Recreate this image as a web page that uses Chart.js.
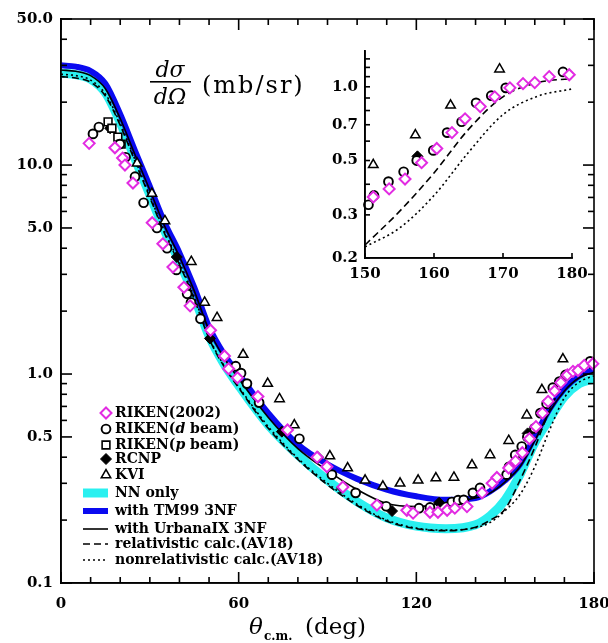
<!DOCTYPE html>
<html>
<head>
<meta charset="utf-8">
<script src="https://cdn.jsdelivr.net/npm/chart.js@4.4.0/dist/chart.umd.min.js"></script>
<style>
html, body { margin: 0; padding: 0; background: #fff; }
#wrap { position: relative; width: 608px; height: 643px; }
#mainChart { position: absolute; left: 0; top: 0; }
#insetChart { position: absolute; left: 300px; top: 30px; }
</style>
</head>
<body>
<div id="wrap">
    <canvas id="mainChart" width="608" height="643"></canvas>
    <canvas id="insetChart" width="300" height="270"></canvas>
</div>
<script>
// measured points (deg, mb/sr)
const riken02Deg = [9.5, 18.2, 20.8, 21.6, 24.3, 30.8, 34.4, 37.8, 41.5, 43.6, 50.5, 55.2, 56.6, 59.6, 66.5,
    76.5, 86.5, 89.8, 95.2, 106.7, 116.8, 118.9, 124.6, 127.3, 130.4, 133, 137.1, 142.2, 145.6, 147.2,
    151.2, 153.5, 155.8, 158.2, 160.4, 162.6, 164.5, 166.7, 168.8, 171, 172.9, 174.6, 176.7, 179.6]
const riken02Val = [12.7, 12.1, 10.8, 10.0, 8.2, 5.3, 4.2, 3.25, 2.6, 2.12, 1.62, 1.22, 1.06, 0.96, 0.78,
    0.54, 0.40, 0.36, 0.288, 0.236, 0.223, 0.216, 0.218, 0.218, 0.223, 0.228, 0.232, 0.27, 0.30, 0.32,
    0.355, 0.383, 0.42, 0.49, 0.56, 0.65, 0.74, 0.83, 0.91, 0.99, 1.03, 1.04, 1.10, 1.12]

const dBeamDeg = [10.8, 12.8, 19.9, 21.8, 25, 27.9, 32.4, 35.8, 39, 42.2, 42.6, 43.9, 47.1, 59, 60.8,
    62.8, 66.9, 80.5, 91.5, 99.5, 109.8, 120.9, 124.6, 132, 134.1, 136, 139.1, 141.5, 150.5, 151.3,
    153.4, 155.6, 157.5, 159.9, 161.9, 164, 166.1, 168.3, 170.4, 178.7]
const dBeamVal = [14.1, 15.2, 12.6, 10.9, 8.8, 6.6, 5.0, 4.0, 3.15, 2.58, 2.42, 2.2, 1.84, 1.09, 1.01,
    0.9, 0.73, 0.49, 0.33, 0.27, 0.233, 0.228, 0.23, 0.244, 0.249, 0.25, 0.27, 0.285, 0.33, 0.36,
    0.41, 0.45, 0.50, 0.55, 0.65, 0.72, 0.86, 0.92, 0.99, 1.15]

const pBeamDeg = [15.9, 17.2, 19.2, 20.3]
const pBeamVal = [16.1, 15.0, 13.6, 12.6]

const rcnpDeg = [16.6, 39.1, 50.3, 74.6, 86.8, 94.9, 111.8, 127.7, 157.6]
const rcnpVal = [15.0, 3.63, 1.48, 0.53, 0.40, 0.285, 0.221, 0.242, 0.52]

const kviDeg = [25.7, 30.7, 35.1, 44, 48.5, 52.7, 61.5, 69.8, 73.8, 78.8, 90.8, 96.8, 102.7, 108.7,
    114.5, 120.6, 126.6, 132.7, 138.8, 144.9, 151.2, 157.3, 162.4, 169.5]
const kviVal = [10.2, 7.3, 5.4, 3.45, 2.2, 1.86, 1.24, 0.90, 0.76, 0.57, 0.405, 0.355, 0.31, 0.29,
    0.30, 0.31, 0.318, 0.32, 0.367, 0.41, 0.48, 0.635, 0.84, 1.18]

// calculations
const curveDeg = [0, 5, 10, 15, 20, 25, 30, 35, 40, 45, 50, 55, 60, 70, 80, 90, 100, 110, 120, 130,
    140, 145, 150, 155, 160, 165, 170, 175, 180]
const nnOnly = [27.5, 27.1, 25.8, 22.2, 16.0, 10.7, 7.2, 4.85, 3.45, 2.35, 1.52, 1.12, 0.88, 0.57, 0.41,
    0.31, 0.245, 0.205, 0.187, 0.182, 0.19, 0.21, 0.25, 0.33, 0.47, 0.61, 0.78, 0.9, 0.95]
const tm99 = [30, 29.6, 28.2, 24.5, 17.5, 11.7, 7.9, 5.3, 3.8, 2.6, 1.68, 1.25, 1.0, 0.65, 0.46,
    0.37, 0.315, 0.28, 0.26, 0.25, 0.255, 0.275, 0.31, 0.37, 0.5, 0.68, 0.85, 0.98, 1.05]
const urbana = [28.5, 28.1, 26.8, 23.2, 16.7, 11.2, 7.6, 5.1, 3.65, 2.5, 1.62, 1.2, 0.95, 0.62, 0.44,
    0.345, 0.28, 0.24, 0.232, 0.243, 0.255, 0.27, 0.305, 0.36, 0.48, 0.66, 0.83, 0.96, 1.02]
const relCalc = [26.5, 26.1, 24.9, 21.4, 15.5, 10.4, 7.0, 4.7, 3.35, 2.28, 1.48, 1.09, 0.86, 0.55, 0.39,
    0.295, 0.235, 0.198, 0.182, 0.178, 0.185, 0.2, 0.226, 0.31, 0.445, 0.67, 0.91, 1.04, 1.08]
const nonrelCalc = [27.2, 26.8, 25.5, 21.9, 15.8, 10.6, 7.1, 4.8, 3.42, 2.33, 1.5, 1.1, 0.87, 0.56, 0.395,
    0.3, 0.238, 0.2, 0.183, 0.179, 0.184, 0.195, 0.222, 0.265, 0.36, 0.54, 0.77, 0.915, 0.98]

// axis ticks
const mainXTicks = [0, 60, 120, 180]
const mainXMinor = [10, 20, 30, 40, 50, 70, 80, 90, 100, 110, 130, 140, 150, 160, 170]
const mainYTicks = [0.1, 0.5, 1, 5, 10, 50]
const mainYMinor = [0.2, 0.3, 0.4, 0.6, 0.7, 0.8, 0.9, 2, 3, 4, 6, 7, 8, 9, 20, 30, 40]
const insetXTicks = [150, 160, 170, 180]
const insetYTicks = [0.2, 0.3, 0.5, 0.7, 1.0]
const insetYMinor = [0.4, 0.6, 0.8, 0.9, 1.1, 1.2, 1.3]

const MAGENTA = '#e22be2'
const CYAN = '#2af0f0'
const BLUE = '#0a0af0'
const FONT = '"DejaVu Serif", serif'

function pts(xs, ys, minX) {
    return xs.map((x, i) => ({x: x, y: ys[i]})).filter(p => minX === undefined || p.x >= minX)
}

function drawMarker(ctx, style, x, y, r, stroke, fill, lw) {
    ctx.save()
    ctx.lineWidth = lw
    ctx.strokeStyle = stroke
    ctx.fillStyle = fill
    ctx.beginPath()
    if (style === 'circle') {
        ctx.arc(x, y, r, 0, Math.PI * 2)
    } else if (style === 'rectRot') {
        ctx.moveTo(x, y - r); ctx.lineTo(x + r, y); ctx.lineTo(x, y + r); ctx.lineTo(x - r, y)
        ctx.closePath()
    } else if (style === 'rect') {
        const s = r * Math.SQRT1_2
        ctx.rect(x - s, y - s, 2 * s, 2 * s)
    } else if (style === 'triangle') {
        const e = r * 3 / Math.sqrt(3)
        const h = e * Math.sqrt(3) / 2
        ctx.moveTo(x - e / 2, y + h / 3); ctx.lineTo(x + e / 2, y + h / 3); ctx.lineTo(x, y - 2 * h / 3)
        ctx.closePath()
    }
    ctx.fill()
    ctx.stroke()
    ctx.restore()
}

// frame + inward tick marks, positions taken from the scales themselves
function drawTickFrame(chart, box, xTicks, yTicks) {
    const ctx = chart.ctx
    const sx = chart.scales.x, sy = chart.scales.y
    const L = sx.getPixelForValue(sx.min), R = sx.getPixelForValue(sx.max)
    const B = sy.getPixelForValue(sy.min), T = sy.getPixelForValue(sy.max)
    const w = 1.6
    ctx.save()
    ctx.setLineDash([])
    ctx.globalAlpha = 1
    ctx.fillStyle = '#000'
    ctx.fillRect(L - w / 2, T - w / 2, w, B - T + w)
    ctx.fillRect(L - w / 2, B - w / 2, R - L + w, w)
    if (box) {
        ctx.fillRect(L - w / 2, T - w / 2, R - L + w, w)
        ctx.fillRect(R - w / 2, T - w / 2, w, B - T + w)
    }
    for (let i = 0; i < xTicks.length; i++) {
        const px = sx.getPixelForValue(xTicks[i][0])
        const len = xTicks[i][1]
        ctx.fillRect(px - w / 2, B - len, w, len)
        if (box) ctx.fillRect(px - w / 2, T, w, len)
    }
    for (let i = 0; i < yTicks.length; i++) {
        const py = sy.getPixelForValue(yTicks[i][0])
        const len = yTicks[i][1]
        ctx.fillRect(L, py - w / 2, len, w)
        if (box) ctx.fillRect(R - len, py - w / 2, len, w)
    }
    ctx.restore()
}

const mainTicksX = mainXTicks.map(v => [v, 11]).concat(mainXMinor.map(v => [v, 6]))
const mainTicksY = mainYTicks.map(v => [v, 11]).concat(mainYMinor.map(v => [v, 6]))
const insetTicksX = insetXTicks.map(v => [v, 5])
const insetTicksY = insetYTicks.concat(insetYMinor).map(v => [v, 5])

// legend and labels on the main chart
const legendItems = [
    {ds: 0, kind: 'marker', text: [['RIKEN(2002)', '']]},
    {ds: 1, kind: 'marker', text: [['RIKEN(', ''], ['d', 'italic '], [' beam)', '']]},
    {ds: 2, kind: 'marker', text: [['RIKEN(', ''], ['p', 'italic '], [' beam)', '']]},
    {ds: 3, kind: 'marker', text: [['RCNP', '']]},
    {ds: 4, kind: 'marker', text: [['KVI', '']]},
    {ds: 9, kind: 'line', text: [['NN only', '']]},
    {ds: 8, kind: 'line', text: [['with TM99 3NF', '']]},
    {ds: 7, kind: 'line', text: [['with UrbanaIX 3NF', '']]},
    {ds: 6, kind: 'line', text: [['relativistic calc.(AV18)', '']]},
    {ds: 5, kind: 'line', text: [['nonrelativistic calc.(AV18)', '']]}
]
const legendRowsY = [413, 429, 445, 459, 475, 493, 511, 529, 544, 560]

function drawAnnotations(chart) {
    const ctx = chart.ctx
    ctx.save()
    ctx.fillStyle = '#000'
    legendItems.forEach((item, i) => {
        const ds = chart.data.datasets[item.ds]
        const y = legendRowsY[i]
        if (item.kind === 'marker') {
            drawMarker(ctx, ds.pointStyle, 106, y, ds.pointRadius, ds.borderColor,
                ds.backgroundColor, ds.borderWidth)
        } else {
            ctx.save()
            ctx.strokeStyle = ds.borderColor
            ctx.lineWidth = ds.borderWidth
            ctx.setLineDash(ds.borderDash || [])
            ctx.beginPath()
            ctx.moveTo(83, y); ctx.lineTo(108, y)
            ctx.stroke()
            ctx.restore()
        }
        let x = 115
        ctx.textBaseline = 'middle'
        ctx.textAlign = 'left'
        item.text.forEach(([t, st]) => {
            ctx.font = st + 'bold 14px ' + FONT
            ctx.fillText(t, x, y)
            x += ctx.measureText(t).width
        })
    })
    // y title (fraction)
    ctx.textBaseline = 'alphabetic'
    ctx.textAlign = 'center'
    ctx.font = 'italic 22px ' + FONT
    ctx.fillText('dσ', 170, 77)
    ctx.fillText('dΩ', 170, 104)
    ctx.fillRect(150, 81, 41, 1.6)
    ctx.textAlign = 'left'
    ctx.font = '24px ' + FONT
    ctx.letterSpacing = '2px'
    ctx.fillText('(mb/sr)', 202, 93)
    ctx.letterSpacing = '0px'
    // x title
    ctx.font = 'italic 23px ' + FONT
    ctx.fillText('θ', 249, 634)
    ctx.font = 'bold 12px ' + FONT
    ctx.fillText('c.m.', 264, 640)
    ctx.font = '23px ' + FONT
    ctx.fillText('(deg)', 305, 634)
    ctx.restore()
}

const mainExtras = {
    id: 'mainExtras',
    afterDraw(chart) {
        drawAnnotations(chart)
        drawTickFrame(chart, true, mainTicksX, mainTicksY)
    }
}
const insetExtras = {
    id: 'insetExtras',
    afterDraw(chart) {
        drawTickFrame(chart, false, insetTicksX, insetTicksY)
    }
}

function scatterSet(xs, ys, style, color, fill, r, lw, minX) {
    return {
        data: pts(xs, ys, minX), showLine: false, pointStyle: style, pointRadius: r,
        pointHoverRadius: r, borderColor: color, backgroundColor: fill, borderWidth: lw, clip: 8
    }
}

function curveSet(ys, color, width, dash, minX) {
    return {
        data: pts(curveDeg, ys, minX), showLine: true, pointRadius: 0, borderColor: color,
        backgroundColor: color, borderWidth: width, borderDash: dash, fill: false,
        cubicInterpolationMode: 'monotone'
    }
}

function fixedTicks(vals) {
    return function(scale) {
        scale.ticks = vals.map(v => ({value: v}))
    }
}

function noLabelPadding(scale) {
    scale.paddingLeft = 0
    scale.paddingRight = 0
}

const tickFont = {family: FONT, size: 15, weight: 'bold'}
const axisBorder = {display: true, color: '#000', width: 1.6}

// main chart
new Chart(document.getElementById('mainChart'), {
    type: 'scatter',
    data: {
        datasets: [
            scatterSet(riken02Deg, riken02Val, 'rectRot', MAGENTA, '#fff', 5.5, 2),
            scatterSet(dBeamDeg, dBeamVal, 'circle', '#000', '#fff', 4.4, 1.9),
            scatterSet(pBeamDeg, pBeamVal, 'rect', '#000', '#fff', 5.5, 1.6),
            scatterSet(rcnpDeg, rcnpVal, 'rectRot', '#000', '#000', 5.5, 1),
            scatterSet(kviDeg, kviVal, 'triangle', '#000', '#fff', 5.5, 1.5),
            curveSet(nonrelCalc, '#000', 1.6, [2, 3]),
            curveSet(relCalc, '#000', 1.6, [7, 4]),
            curveSet(urbana, '#000', 1.6, []),
            curveSet(tm99, BLUE, 6, []),
            curveSet(nnOnly, CYAN, 9, [])
        ]
    },
    plugins: [mainExtras],
    options: {
        responsive: false,
        animation: false,
        devicePixelRatio: 1,
        layout: {padding: {top: 19, right: 14, left: 0, bottom: 0}},
        plugins: {
            legend: {display: false},
            tooltip: {enabled: false}
        },
        scales: {
            x: {
                type: 'linear', min: 0, max: 180,
                afterBuildTicks: fixedTicks(mainXTicks),
                afterFit: scale => { scale.height = 60; noLabelPadding(scale) },
                grid: {display: false, drawTicks: false},
                border: axisBorder,
                ticks: {font: tickFont, color: '#000', padding: 12, maxRotation: 0, autoSkip: false}
            },
            y: {
                type: 'logarithmic', min: 0.1, max: 50,
                afterBuildTicks: fixedTicks(mainYTicks),
                afterFit: scale => { scale.width = 61 },
                grid: {display: false, drawTicks: false},
                border: axisBorder,
                ticks: {
                    font: tickFont, color: '#000', padding: 8, autoSkip: false,
                    callback: v => Number(v).toFixed(1)
                }
            }
        }
    }
})

// inset (150-180 deg); canvas sits at (300, 30)
new Chart(document.getElementById('insetChart'), {
    type: 'scatter',
    data: {
        datasets: [
            scatterSet(riken02Deg, riken02Val, 'rectRot', MAGENTA, '#fff', 5.5, 2, 150),
            scatterSet(dBeamDeg, dBeamVal, 'circle', '#000', '#fff', 4.4, 1.9, 150),
            scatterSet(rcnpDeg, rcnpVal, 'rectRot', '#000', '#000', 5.5, 1, 150),
            scatterSet(kviDeg, kviVal, 'triangle', '#000', '#fff', 5.5, 1.5, 150),
            curveSet(nonrelCalc, '#000', 1.6, [2, 3], 150),
            curveSet(relCalc, '#000', 1.6, [7, 4], 150)
        ]
    },
    plugins: [insetExtras],
    options: {
        responsive: false,
        animation: false,
        devicePixelRatio: 1,
        layout: {padding: {top: 21, right: 28, left: 15, bottom: 17}},
        plugins: {
            legend: {display: false},
            tooltip: {enabled: false}
        },
        scales: {
            x: {
                type: 'linear', min: 150, max: 180,
                afterBuildTicks: fixedTicks(insetXTicks),
                afterFit: scale => { scale.height = 25; noLabelPadding(scale) },
                grid: {display: false, drawTicks: false},
                border: axisBorder,
                ticks: {font: tickFont, color: '#000', padding: 7, maxRotation: 0, autoSkip: false}
            },
            y: {
                type: 'logarithmic', min: 0.2, max: 1.4,
                afterBuildTicks: fixedTicks(insetYTicks),
                afterFit: scale => { scale.width = 50 },
                grid: {display: false, drawTicks: false},
                border: axisBorder,
                ticks: {
                    font: tickFont, color: '#000', padding: 7, autoSkip: false,
                    callback: v => Number(v).toFixed(1)
                }
            }
        }
    }
})
</script>
</body>
</html>
